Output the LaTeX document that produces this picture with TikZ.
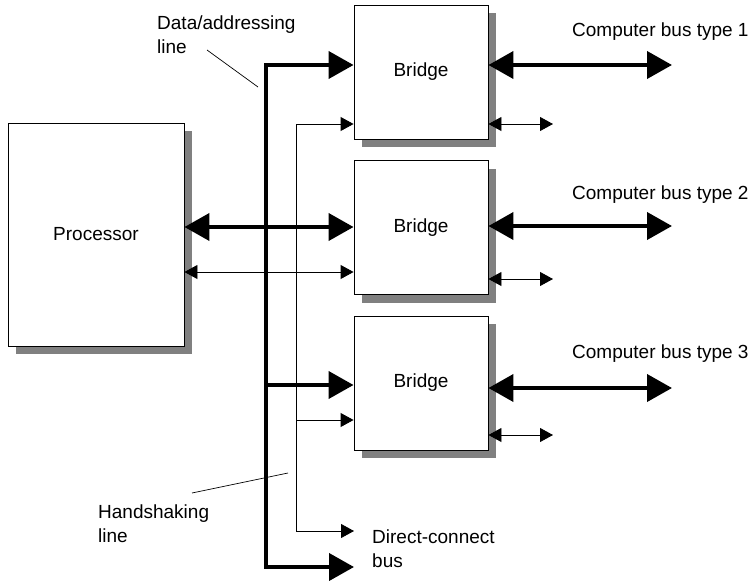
\documentclass[tikz,border=0pt]{standalone}
\usepackage{fontspec}
\setmainfont{Liberation Sans}
\usetikzlibrary{arrows.meta,shadows}
\begin{document}
\begin{tikzpicture}[x=1pt,y=-1pt,
  lbl/.style={font=\fontsize{19}{24}\selectfont,inner sep=0pt},
  unit/.style={draw=black,line width=0.9pt,fill=white,inner sep=0pt,
    font=\fontsize{19}{24}\selectfont,
    drop shadow={shadow xshift=8pt,shadow yshift=-8pt,fill=black!50,opacity=1}},
  bridgebox/.style={unit,minimum width=134pt,minimum height=134pt},
  bigbus/.style={line width=4pt,line join=miter},
  smallbus/.style={line width=0.9pt,line join=miter},
  bigtip/.tip={Triangle[length=25pt,width=27pt]},
  smalltip/.tip={Triangle[length=13pt,width=14pt]},
  leader/.style={line width=0.7pt}
]
\useasboundingbox (0,0) rectangle (756,581);

% functional blocks
\node[unit,minimum width=176pt,minimum height=223pt] (proc) at (96,234.5) {Processor};
\node[bridgebox] (b1) at (421,72) {Bridge};
\node[bridgebox] (b2) at (421,227.5) {Bridge};
\node[bridgebox] (b3) at (421,383) {Bridge};

% labels
\node[lbl,anchor=west] (bus1) at (572,32) {Computer bus type 1};
\node[lbl,anchor=west] (bus2) at (572,195) {Computer bus type 2};
\node[lbl,anchor=west] (bus3) at (572,354) {Computer bus type 3};
\node[lbl,anchor=west,align=left] (datalbl) at (157,35) {Data/addressing\\line};
\node[lbl,anchor=west,align=left] (hslbl) at (98,524) {Handshaking\\line};
\node[lbl,anchor=west,align=left] (dclbl) at (372,549) {Direct-connect\\bus};

% bus junctions
\coordinate (dtop) at (266,65);
\coordinate (dmid) at (266,385);
\coordinate (dbot) at (266,567);
\coordinate (htop) at (296,124);
\coordinate (hmid) at (296,420);
\coordinate (hbot) at (296,531);
\coordinate (dcthin) at (354,531);
\coordinate (dcthick) at (354,567);

% data/addressing bus
\draw[bigbus,{bigtip}-{bigtip}] (dtop -| b1.west) -- (dtop) -- (dbot) -- (dcthick);
\draw[bigbus,-{bigtip}] (dmid) -- (dmid -| b3.west);

% handshaking line
\draw[smallbus,{smalltip}-{smalltip}] (htop -| b1.west) -- (htop) -- (hbot) -- (dcthin);
\draw[smallbus,-{smalltip}] (hmid) -- (hmid -| b3.west);

% processor to bridge
\coordinate (pthick) at (0,227);
\coordinate (pthin) at (0,272);
\draw[bigbus,{bigtip}-{bigtip}] (pthick -| proc.east) -- (pthick -| b2.west);
\draw[smallbus,{smalltip}-{smalltip}] (pthin -| proc.east) -- (pthin -| b2.west);

% outgoing computer buses
\coordinate (o1) at (672,65);
\coordinate (o2) at (672,226);
\coordinate (o3) at (672,388);
\draw[bigbus,{bigtip}-{bigtip}] (o1 -| b1.east) -- (o1);
\draw[bigbus,{bigtip}-{bigtip}] (o2 -| b2.east) -- (o2);
\draw[bigbus,{bigtip}-{bigtip}] (o3 -| b3.east) -- (o3);

\coordinate (s1) at (553,124);
\coordinate (s2) at (553,279);
\coordinate (s3) at (553,435);
\draw[smallbus,{smalltip}-{smalltip}] (s1 -| b1.east) -- (s1);
\draw[smallbus,{smalltip}-{smalltip}] (s2 -| b2.east) -- (s2);
\draw[smallbus,{smalltip}-{smalltip}] (s3 -| b3.east) -- (s3);

% leader lines
\coordinate (dl1) at (207,50);
\coordinate (dl2) at (258,87);
\coordinate (hl1) at (192,493);
\coordinate (hl2) at (288,473);
\draw[leader] (dl1) -- (dl2);
\draw[leader] (hl1) -- (hl2);
\end{tikzpicture}
\end{document}
